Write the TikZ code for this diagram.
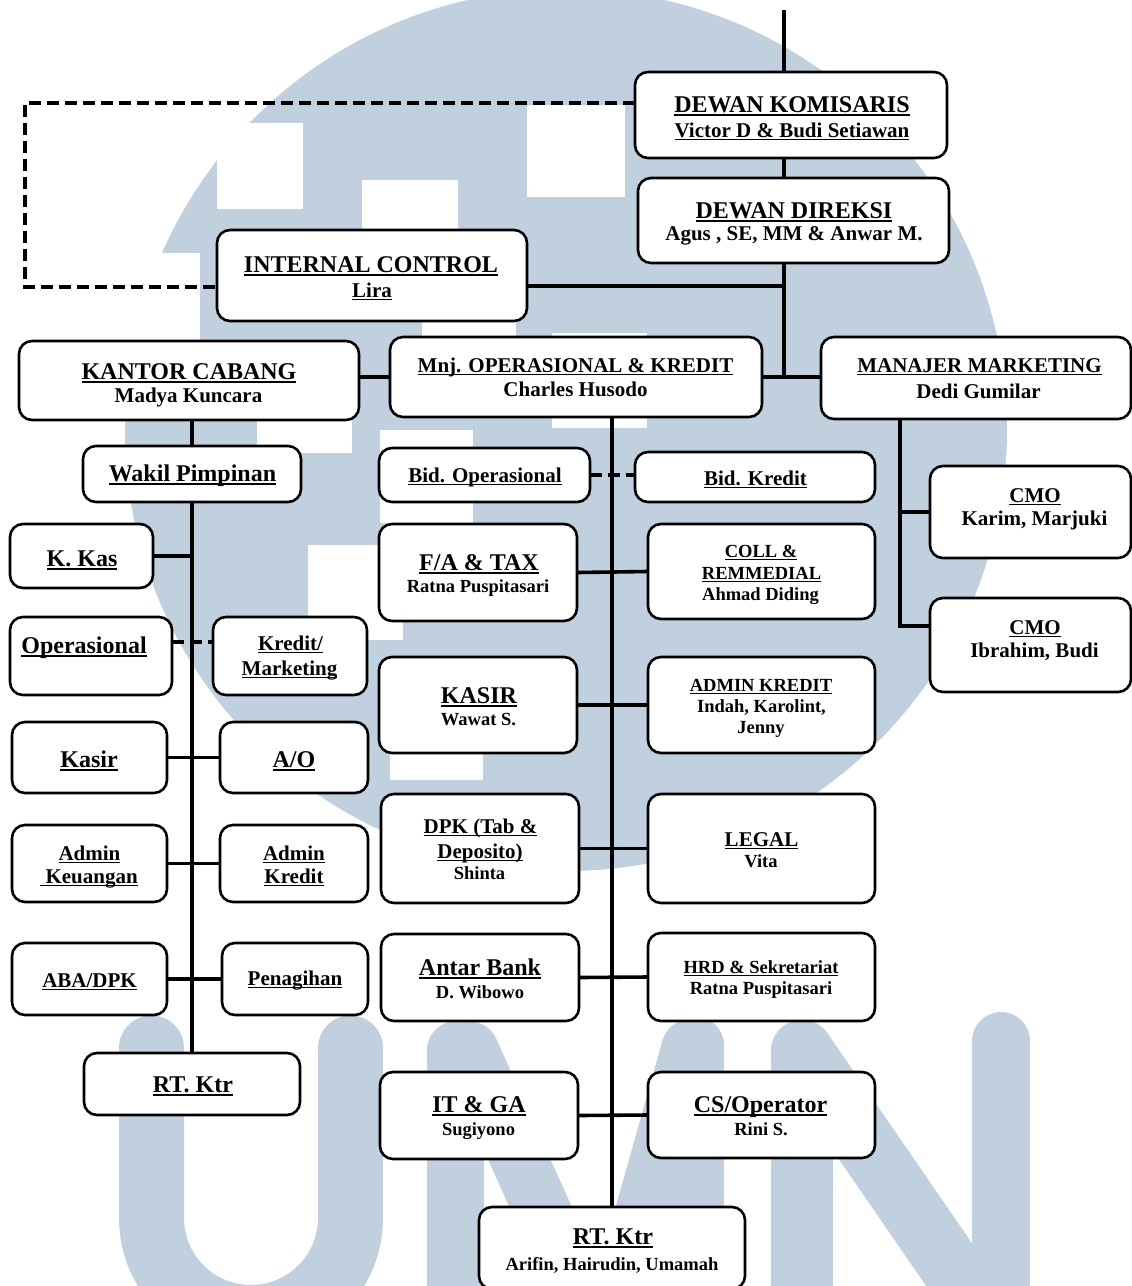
\documentclass[tikz,border=0pt]{standalone}
\usepackage{fontspec}
\setmainfont{Liberation Serif}
\definecolor{wm}{RGB}{192,208,222}
\newcommand{\myul}[1]{\setbox0=\hbox{#1}\rlap{\rule[-0.16em]{\wd0}{0.075em}}\box0}
\newcommand{\bx}[5]{\node[box, minimum width={(#4-#2)*1pt}, minimum height={(#5-#3)*1pt}] (#1) at ({(#2+#4)/2},{(#3+#5)/2}) {};}
\newcommand{\tx}[5]{\node[lbl, font=\fontsize{#4}{#4}\selectfont\bfseries] (#1) at (#2,#3) {#5};}
\begin{document}
\begin{tikzpicture}[x=1pt,y=-1pt,
  box/.style={draw=black, line width=2.6pt, rounded corners=13pt, fill=white, inner sep=0pt, outer sep=0pt},
  conn/.style={draw=black, line width=3.6pt},
  dconn/.style={draw=black, line width=3.2pt, dash pattern=on 12pt off 6pt},
  lbl/.style={anchor=base, inner sep=0pt, outer sep=0pt, text=black}]
\fill[white] (0,0) rectangle (1132,1286);
\useasboundingbox (0,0) rectangle (1132,1286);
% watermark
\begin{scope}
\clip (0,0) rectangle (1132,1286);
\fill[wm] (566,430) circle[radius=441pt];
\fill[white] (217,123) rectangle (303,209);
\fill[white] (527,105) rectangle (625,197);
\fill[white] (362,180) rectangle (458,272);
\fill[white] (422,247) rectangle (516,337);
\fill[white] (552,333) rectangle (647,428);
\fill[white] (100,253) rectangle (200,345);
\fill[white] (257,363) rectangle (352,453);
\fill[white] (380,430) rectangle (473,523);
\fill[white] (308,545) rectangle (403,640);
\fill[white] (390,690) rectangle (483,780);
\begin{scope}[draw=wm, line cap=round, line join=round]
\draw[line width=65pt] (151.5,1048) -- (151.5,1218) arc[start angle=180, end angle=360, radius=99.5pt] -- (350.5,1048);
\draw[line width=57pt] (455,1050) -- (455,1420);
\draw[line width=57pt] (695,1045) -- (695,1420);
\draw[line width=57pt] (470,1050) -- (605,1350) -- (690,1048);
\draw[line width=62pt] (802,1051) -- (802,1420);
\draw[line width=58pt] (1001,1041) -- (1001,1420);
\draw[line width=62pt] (802,1051) -- (1001,1340);
\end{scope}
\end{scope}
% boxes
\bx{dk}{635}{72}{947}{158}
\bx{dd}{638}{178}{949}{263}
\bx{ic}{217}{230}{527}{321}
\bx{kc}{19}{341}{359}{420}
\bx{mnj}{390}{337}{762}{417}
\bx{mkt}{821}{337}{1131}{419}
\bx{wk}{83}{446}{301}{502}
\bx{kkas}{10}{524}{153}{588}
\bx{oper}{10}{617}{172}{695}
\bx{kredm}{213}{617}{367}{695}
\bx{kasir}{12}{722}{167}{793}
\bx{ao}{220}{722}{368}{793}
\bx{admkeu}{12}{825}{167}{902}
\bx{admkr}{220}{825}{368}{902}
\bx{aba}{12}{943}{167}{1015}
\bx{pen}{222}{943}{368}{1015}
\bx{rtl}{84}{1053}{300}{1115}
\bx{bidop}{379}{448}{590}{502}
\bx{bidk}{635}{452}{875}{502}
\bx{fa}{379}{524}{577}{621}
\bx{coll}{648}{524}{875}{619}
\bx{kas2}{379}{657}{577}{753}
\bx{admin}{648}{657}{875}{753}
\bx{dpk}{381}{794}{579}{903}
\bx{legal}{648}{794}{875}{903}
\bx{antar}{381}{934}{579}{1021}
\bx{hrd}{648}{933}{875}{1021}
\bx{itga}{380}{1072}{578}{1159}
\bx{cs}{648}{1072}{875}{1158}
\bx{rtb}{479}{1207}{745}{1289}
\bx{cmo1}{930}{466}{1131}{558}
\bx{cmo2}{930}{598}{1131}{692}
% connectors
\coordinate (topc) at (784,10);
\coordinate (mx) at (900,0);
\coordinate (dcor) at (25,200);
\draw[conn] (topc) -- (topc |- dk.north);
\draw[conn] (topc |- dk.south) -- (topc |- dd.north);
\draw[conn] (topc |- dd.south) -- (topc |- mnj.east);
\draw[conn] ([yshift=-10.5pt]ic.east) -- ([yshift=-10.5pt]ic.east -| topc);
\draw[conn] (mnj.east) -- (mnj.east -| mkt.west);
\draw[conn] (mnj.west) -- (mnj.west -| kc.east);
\draw[dconn] ([yshift=12pt]dk.west) -| (dcor) |- ([yshift=-11.5pt]ic.west);
\draw[conn] (wk.north) -- (wk.north |- kc.south);
\draw[conn] (wk.south) -- (rtl.north);
\draw[conn] (kkas.east) -- (kkas.east -| wk.south);
\draw[dconn] ([yshift=14pt]oper.east) -- ([yshift=14pt]kredm.west);
\draw[conn] (kasir.east) -- (ao.west);
\draw[conn] (admkeu.east) -- (admkr.west);
\draw[conn] (aba.east) -- (pen.west);
\draw[conn] (rtb.north) -- (rtb.north |- mnj.south);
\draw[dconn] (bidop.east) -- (bidop.east -| bidk.west);
\draw[conn] (fa.east) -- (coll.west);
\draw[conn] (kas2.east) -- (admin.west);
\draw[conn] (dpk.east) -- (legal.west);
\draw[conn] (antar.east) -- (hrd.west);
\draw[conn] (itga.east) -- (cs.west);
\draw[conn] (cmo1.west) -- (cmo1.west -| mx);
\draw[conn] (mkt.south -| mx) |- ([yshift=19pt]cmo2.west);
% texts
\tx{t1}{792}{112}{24}{\myul{DEWAN KOMISARIS}}
\tx{t2}{792}{137}{21}{\myul{Victor D \& Budi Setiawan}}
\tx{t3}{794}{218}{24}{\myul{DEWAN DIREKSI}}
\tx{t4}{794}{240}{21}{Agus , SE, MM \& Anwar M.}
\tx{t5}{371}{272}{24}{\myul{INTERNAL CONTROL}}
\tx{t6}{372}{297}{21}{\myul{Lira}}
\tx{t7}{189}{379}{24}{\myul{KANTOR CABANG}}
\tx{t8}{188.5}{402}{21}{Madya Kuncara}
\tx{t9}{575.5}{372}{21}{\myul{Mnj. OPERASIONAL \& KREDIT}}
\tx{t10}{575.5}{396}{21}{Charles Husodo}
\tx{t11}{979.5}{372}{21}{\myul{MANAJER MARKETING}}
\tx{t12}{978.5}{398}{21}{Dedi Gumilar}
\tx{t13}{192.5}{481}{24}{\myul{Wakil Pimpinan}}
\tx{t14}{82}{566}{24}{\myul{K. Kas}}
\tx{t15}{84}{653}{24}{\myul{Operasional}}
\tx{t16}{290.5}{650}{21}{\myul{Kredit/}}
\tx{t17}{289.5}{675}{21}{\myul{Marketing}}
\tx{t18}{89}{767}{24}{\myul{Kasir}}
\tx{t19}{294}{767}{24}{\myul{A/O}}
\tx{t20}{89.5}{860}{21}{\myul{Admin}}
\tx{t21}{89}{883}{21}{\myul{\ Keuangan}}
\tx{t22}{294}{860}{21}{\myul{Admin}}
\tx{t23}{294}{883}{21}{\myul{Kredit}}
\tx{t24}{89.5}{987}{21}{\myul{ABA/DPK}}
\tx{t25}{295}{985}{21}{\myul{Penagihan}}
\tx{t26}{193}{1092}{24}{\myul{RT. Ktr}}
\tx{t27}{485}{482}{21}{\myul{Bid. Operasional}}
\tx{t28}{755.5}{485}{21}{\myul{Bid. Kredit}}
\tx{t29}{479}{570}{24}{\myul{F/A \& TAX}}
\tx{t30}{478}{592}{18.5}{Ratna Puspitasari}
\tx{t31}{761}{557}{18.5}{\myul{COLL \&}}
\tx{t32}{761.5}{579}{18.5}{\myul{REMMEDIAL}}
\tx{t33}{760.5}{600}{18.5}{Ahmad Diding}
\tx{t34}{479}{703}{24}{\myul{KASIR}}
\tx{t35}{478.5}{725}{18.5}{Wawat S.}
\tx{t36}{761}{691}{18.5}{\myul{ADMIN KREDIT}}
\tx{t37}{761.5}{712}{18.5}{Indah, Karolint,}
\tx{t38}{761}{733}{18.5}{Jenny}
\tx{t39}{480.5}{833}{21}{\myul{DPK (Tab \&}}
\tx{t40}{480}{858}{21}{\myul{Deposito)}}
\tx{t41}{479.5}{879}{18.5}{Shinta}
\tx{t42}{761.5}{846}{21}{\myul{LEGAL}}
\tx{t43}{761}{867}{18.5}{Vita}
\tx{t44}{480}{975}{24}{\myul{Antar Bank}}
\tx{t45}{480}{998}{18.5}{D. Wibowo}
\tx{t46}{761}{973}{18.5}{\myul{HRD \& Sekretariat}}
\tx{t47}{761}{994}{18.5}{Ratna Puspitasari}
\tx{t48}{479}{1112}{24}{\myul{IT \& GA}}
\tx{t49}{478.5}{1135}{18.5}{Sugiyono}
\tx{t50}{760.5}{1112}{24}{\myul{CS/Operator}}
\tx{t51}{761}{1135}{18.5}{Rini S.}
\tx{t52}{613}{1244}{24}{\myul{RT. Ktr}}
\tx{t53}{612}{1270}{18.5}{Arifin, Hairudin, Umamah}
\tx{t54}{1035}{502}{21}{\myul{CMO}}
\tx{t55}{1034.5}{525}{21}{Karim, Marjuki}
\tx{t56}{1035}{634}{21}{\myul{CMO}}
\tx{t57}{1034.5}{657}{21}{Ibrahim, Budi}
\end{tikzpicture}
\end{document}
